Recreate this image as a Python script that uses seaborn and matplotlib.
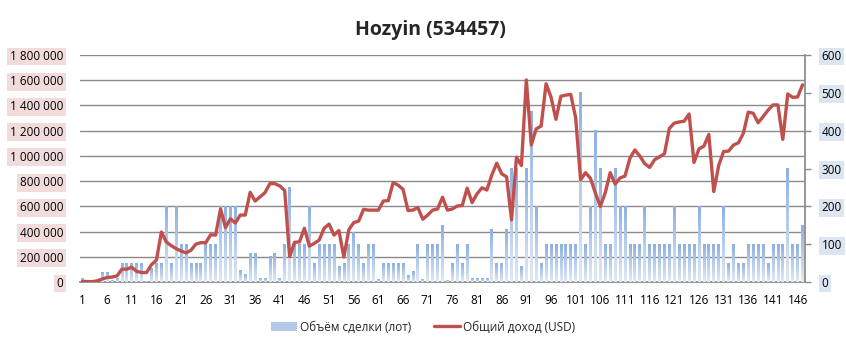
import numpy as np
import pandas as pd
import matplotlib
matplotlib.use("Agg")
import matplotlib.pyplot as plt
import seaborn as sns
from matplotlib.patches import Patch
from matplotlib.lines import Line2D
from matplotlib.colors import LinearSegmentedColormap

days = list(range(1, 148))
volume = [
    25000, 0, 0, 0, 75000, 75000, 8000, 25000, 150000, 150000,
    150000, 150000, 150000, 5000, 105000, 150000, 150000, 600000, 150000, 600000,
    300000, 300000, 150000, 150000, 150000, 300000, 300000, 300000, 600000, 600000,
    600000, 600000, 90000, 60000, 225000, 225000, 25000, 25000, 200000, 225000,
    25000, 300000, 750000, 300000, 300000, 300000, 600000, 150000, 300000, 300000,
    300000, 300000, 120000, 150000, 300000, 390000, 300000, 150000, 300000, 300000,
    20000, 150000, 150000, 150000, 150000, 150000, 55000, 85000, 300000, 20000,
    300000, 300000, 300000, 450000, 15000, 150000, 300000, 150000, 300000, 24000,
    24000, 24000, 24000, 420000, 150000, 150000, 420000, 900000, 900000, 120000,
    900000, 1350000, 600000, 150000, 300000, 300000, 300000, 300000, 300000, 300000,
    300000, 1500000, 300000, 600000, 1200000, 900000, 300000, 300000, 900000, 600000,
    600000, 300000, 300000, 300000, 600000, 300000, 300000, 300000, 300000, 300000,
    600000, 300000, 300000, 300000, 300000, 600000, 300000, 300000, 300000, 300000,
    600000, 150000, 300000, 150000, 150000, 300000, 300000, 300000, 300000, 150000,
    300000, 300000, 300000, 900000, 300000, 300000, 450000,
]
income = [
    2, 1, 1, 3, 8, 12, 13, 16, 34, 34,
    39, 28, 25, 25, 46, 58, 132, 106, 96, 88,
    82, 77, 84, 100, 104, 104, 125, 124, 193, 144,
    167, 156, 177, 177, 237, 214, 225, 236, 260, 260,
    254, 242, 67, 105, 106, 142, 95, 102, 111, 142,
    153, 124, 136, 66, 138, 157, 161, 192, 190, 190,
    190, 214, 215, 263, 256, 245, 189, 190, 197, 166,
    177, 190, 193, 224, 190, 193, 201, 202, 248, 210,
    233, 249, 243, 283, 314, 286, 278, 164, 330, 308,
    534, 362, 405, 412, 524, 489, 430, 491, 494, 496,
    434, 270, 289, 274, 235, 200, 236, 289, 259, 275,
    280, 327, 349, 333, 313, 303, 323, 331, 339, 406,
    420, 423, 425, 444, 316, 352, 359, 390, 239, 308,
    345, 346, 362, 368, 393, 449, 446, 421, 437, 454,
    468, 468, 377, 497, 488, 489, 521,
]
left_ticks = [0, 200000, 400000, 600000, 800000, 1000000, 1200000, 1400000, 1600000, 1800000]
right_ticks = [0, 100, 200, 300, 400, 500, 600]
title = "Hozyin (534457)"
bar_label = "Объём сделки (лот)"
line_label = "Общий доход (USD)"

sns.set_theme(style="white")
plt.rcParams['font.family'] = ['Open Sans', 'DejaVu Sans']

W, H = 846, 347
fig = plt.figure(figsize=(W / 100, H / 100), dpi=100)
ax = fig.add_axes([80 / W, 1 - 282 / H, 725 / W, 227 / H])

df = pd.DataFrame({"day": days, "volume": volume, "income": income})
sns.barplot(data=df, x="day", y="volume", ax=ax, color="#a7c0e6",
            width=0.55, saturation=1, zorder=2)

cmap = LinearSegmentedColormap.from_list("g", ["#e0e9f6", "#8db1e2"])
grad = np.linspace(0, 1, 64).reshape(-1, 1)
for p in ax.patches:
    x, w, h = p.get_x(), p.get_width(), p.get_height()
    p.set_facecolor("none")
    p.set_edgecolor("none")
    if h > 0:
        ax.imshow(grad, cmap=cmap, origin="lower", aspect="auto",
                  extent=[x, x + w, 0, h], zorder=2, interpolation="bilinear")

ax.set_xlim(-0.5, len(days) - 0.5)
ax.set_ylim(0, 1800000)
ax.set_yticks(left_ticks, labels=[f"{v:,}".replace(",", " ") for v in left_ticks])
ax.set_xticks(list(range(0, len(days), 5)), labels=[str(d) for d in days[::5]])
ax.set_xlabel("")
ax.set_ylabel("")
ax.yaxis.grid(True, color="#8a8a8a", lw=1.0)
ax.set_axisbelow(True)
for s in ["left", "top", "right"]:
    ax.spines[s].set_visible(False)
ax.spines["bottom"].set_color("#8a8a8a")
ax.spines["bottom"].set_zorder(1)
ax.tick_params(axis="y", length=0, pad=12, labelsize=8.5, colors="black")
ax.tick_params(axis="x", length=0, pad=9, labelsize=8.5, colors="black")
for t in ax.yaxis.get_major_ticks():
    t.label1.set_bbox(dict(facecolor="#f2dcdb", edgecolor="none", pad=1.8))

ax2 = ax.twinx()
sns.lineplot(x=np.arange(len(days)), y=income, ax=ax2, color="#c0504d", lw=2.4)
ax2.set_ylim(0, 600)
ax2.set_yticks(right_ticks, labels=[str(v) for v in right_ticks])
ax2.set_xlim(-0.5, len(days) - 0.5)
for s in ["left", "top", "bottom"]:
    ax2.spines[s].set_visible(False)
ax2.spines["right"].set_color("#8a8a8a")
ax2.tick_params(axis="y", length=4, width=1, color="#8a8a8a", direction="out",
                pad=8, labelsize=8.5, labelcolor="black", right=True)
for t in ax2.yaxis.get_major_ticks():
    t.label2.set_bbox(dict(facecolor="#dce6f2", edgecolor="none", pad=1.8))
ax2.grid(False)

fig.text(430 / W, 1 - 30 / H, title, ha="center", va="center",
         fontsize=14, fontweight="bold")

handles = [Patch(facecolor="#b4c9ea", edgecolor="none"),
           Line2D([0], [0], color="#c0504d", lw=2.4)]
fig.legend(handles, [bar_label, line_label], loc="center",
           bbox_to_anchor=(423 / W, 1 - 327 / H), ncol=2, frameon=False,
           fontsize=8.5, handlelength=2.2, handletextpad=0.2, columnspacing=2.0)

fig.savefig("out.png", dpi=100)
